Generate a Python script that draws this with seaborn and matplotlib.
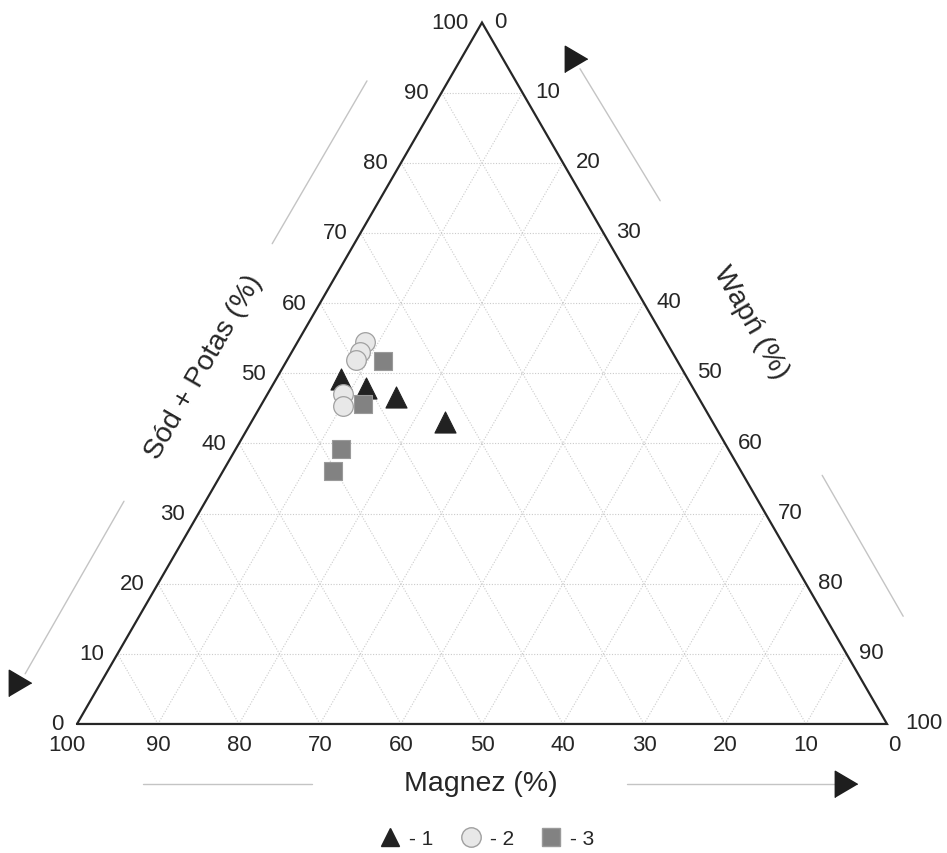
import numpy as np
import pandas as pd
import matplotlib
matplotlib.use("Agg")
import matplotlib.pyplot as plt
import seaborn as sns
from matplotlib.lines import Line2D

sns.set_style("white")
plt.rcParams["font.family"] = ["Liberation Sans", "DejaVu Sans"]

# ---- data (percent) ----
g1_sod_potas = [49.2, 47.9, 46.6, 43.0]
g1_wapn = [8.0, 11.7, 16.1, 23.9]
g2_sod_potas = [54.5, 53.0, 51.9, 47.0, 45.3]
g2_wapn = [8.3, 8.4, 8.5, 9.3, 10.2]
g3_sod_potas = [51.7, 45.6, 39.2, 36.1]
g3_wapn = [11.9, 12.5, 13.0, 13.5]
group_labels = ["1", "2", "3"]
tick_values = [0, 10, 20, 30, 40, 50, 60, 70, 80, 90, 100]
title_left = "Sód + Potas (%)"
title_right = "Wapń (%)"
title_bottom = "Magnez (%)"

S3 = np.sqrt(3) / 2


def tern(a, w):
    a = np.asarray(a, dtype=float)
    w = np.asarray(w, dtype=float)
    return w + a / 2, a * S3


rows = []
for lab, A, W in zip(group_labels, [g1_sod_potas, g2_sod_potas, g3_sod_potas],
                     [g1_wapn, g2_wapn, g3_wapn]):
    for a, w in zip(A, W):
        x, y = tern(a, w)
        rows.append({"x": float(x), "y": float(y), "grupa": lab,
                     "sod_potas": a, "wapn": w, "magnez": 100 - a - w})
df = pd.DataFrame(rows)

fig = plt.figure(figsize=(9.47, 8.54), dpi=100)
ax = fig.add_axes([0, 0, 1, 1])
ax.set_xlim(-9.506, 107.41)
ax.set_ylim(-15.93, 89.51)
ax.axis("off")

TXT = "#262626"

# grid
gkw = dict(color="#cbcbcb", lw=0.8, ls=(0, (1, 1.5)), zorder=1)
for v in tick_values[1:-1]:
    x, y = tern([v, v], [0, 100 - v]); ax.plot(x, y, **gkw)        # const Sód+Potas
    x, y = tern([0, 100 - v], [v, v]); ax.plot(x, y, **gkw)        # const Wapń
    x, y = tern([0, 100 - v], [100 - v, 0]); ax.plot(x, y, **gkw)  # const Magnez

# outline
x, y = tern([0, 100, 0, 0], [0, 0, 100, 0])
ax.plot(x, y, color="#262626", lw=1.6, zorder=3, solid_joinstyle="miter")

# tick labels
fs = 16
for v in tick_values:
    x, y = tern(v, 0)
    ax.annotate(str(v), (x, y), xytext=(-9.5, 0), textcoords="offset points",
                ha="right", va="center", fontsize=fs, color=TXT)
    x, y = tern(100 - v, v)
    dx = 13 if v == 100 else 9
    ax.annotate(str(v), (x, y), xytext=(dx, 1), textcoords="offset points",
                ha="left", va="center", fontsize=fs, color=TXT)
    x, y = tern(0, 100 - v)
    bx = -7 if v == 100 else (5 if v == 0 else 0)
    ax.annotate(str(v), (x, y), xytext=(bx, -14.5), textcoords="offset points",
                ha="center", va="center", fontsize=fs, color=TXT)

# axis titles
tfs = 20.5
ax.text(15.6, 44.2, title_left, rotation=60, ha="center", va="center",
        fontsize=tfs, color=TXT, rotation_mode="anchor")
ax.text(83.2, 49.6, title_right, rotation=-60, ha="center", va="center",
        fontsize=tfs, color=TXT, rotation_mode="anchor")
ax.text(49.9, -7.3, title_bottom, ha="center", va="center", fontsize=tfs, color=TXT)

# decorative direction lines and arrowheads
lkw = dict(color="#c4c4c4", lw=1.0, zorder=1)
ax.plot([35.8, 24.1], [79.4, 59.3], **lkw)
ax.plot([5.8, -6.4], [27.5, 6.2], **lkw)
ax.plot([62.1, 72.0], [80.9, 64.6], **lkw)
ax.plot([92.0, 102.0], [30.7, 13.3], **lkw)
ax.plot([8.1, 29.0], [-7.4, -7.4], **lkw)
ax.plot([67.9, 94.0], [-7.4, -7.4], **lkw)
head = [(-0.85, -1.0), (-0.85, 1.0), (0.85, 0.0)]
hkw = dict(marker=head, ms=19, color="#1e1e1e", ls="", zorder=4)
ax.plot([61.6], [82.1], **hkw)
ax.plot([-7.0], [5.1], **hkw)
ax.plot([94.9], [-7.4], **hkw)

# points
styles = {
    "1": dict(marker="^", s=230, color="#222222", edgecolor="#222222", linewidth=0.8),
    "2": dict(marker="o", s=200, color="#e8e8e8", edgecolor="#a0a0a0", linewidth=0.9),
    "3": dict(marker="s", s=175, color="#828282", edgecolor="#9a9a9a", linewidth=0.8),
}
for lab in group_labels:
    sns.scatterplot(data=df[df["grupa"] == lab], x="x", y="y", ax=ax,
                    legend=False, zorder=5, **styles[lab])

# legend
handles = [
    Line2D([], [], marker="^", ls="", ms=13, mfc="#222222", mec="#222222"),
    Line2D([], [], marker="o", ls="", ms=14, mfc="#e8e8e8", mec="#a0a0a0"),
    Line2D([], [], marker="s", ls="", ms=13, mfc="#828282", mec="#9a9a9a"),
]
leg = fig.legend(handles, [f"- {g}" for g in group_labels], loc="center",
                 bbox_to_anchor=(486 / 947, 1 - 840 / 854), ncol=3, frameon=False,
                 fontsize=15, handletextpad=0.3, columnspacing=1.2,
                 handlelength=1.2, labelcolor=TXT, borderpad=0.2)

fig.savefig("out.png", dpi=100)
